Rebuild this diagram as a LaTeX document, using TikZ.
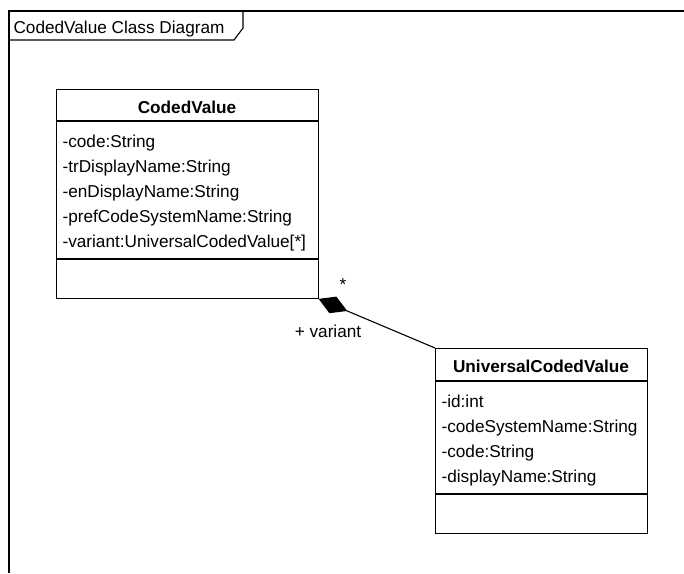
\documentclass[tikz,border=0pt]{standalone}
\usepackage{fontspec}
\setmainfont{Liberation Sans}
\usetikzlibrary{arrows.meta}
\newcommand{\umlfont}{\fontsize{17.2}{20}\selectfont}
\newcommand{\framex}{9}
\newcommand{\framey}{11}
\newcommand{\tabxe}{243}
\newcommand{\tabye}{40}
\newcommand{\tabcut}{9}
\newcommand{\rowsep}{25}
% coded value box
\newcommand{\cvxs}{56}
\newcommand{\cvys}{89}
\newcommand{\cvnamey}{121}
\newcommand{\cvattry}{259}
% universal coded value box
\newcommand{\ucvxs}{435}
\newcommand{\ucvys}{348}
\newcommand{\ucvnamey}{381}
\newcommand{\ucvattry}{494}

\begin{document}
\begin{tikzpicture}[x=1pt,y=-1pt,font=\umlfont,line width=1.1pt,
    classbox/.style={draw,inner sep=0pt,anchor=north west},
    attr/.style={anchor=base west,inner sep=0pt}]
    \useasboundingbox (0,0) rectangle (684,573);
    % diagram frame
    \draw (\framex,573) -- (\framex,\framey) -- (684,\framey);
    \draw (\framex,\tabye) -- (\tabxe - \tabcut,\tabye)
      -- (\tabxe,\tabye - 12) -- (\tabxe,\framey);
    \node[attr] (frametitle) at (13,33) {CodedValue Class Diagram};

    % coded value part
    \node[classbox,minimum width=262pt,minimum height=209pt]
      (codedvalue) at (\cvxs,\cvys) {};
    \draw (codedvalue.west |- 0,\cvnamey) -- (codedvalue.east |- 0,\cvnamey);
    \draw (codedvalue.west |- 0,\cvattry) -- (codedvalue.east |- 0,\cvattry);
    \node[font=\umlfont\bfseries,anchor=base,inner sep=0pt]
      (cvname) at (187,113) {CodedValue};
    \foreach \attrtext [count=\i] in {{-code:String},{-trDisplayName:String},
      {-enDisplayName:String},{-prefCodeSystemName:String},
      {-variant:UniversalCodedValue[*]}}
      \node[attr] (cvattr\i) at (62,122 + \rowsep*\i) {\attrtext};

    % universal coded value part
    \node[classbox,minimum width=212pt,minimum height=185pt]
      (universal) at (\ucvxs,\ucvys) {};
    \draw (universal.west |- 0,\ucvnamey) -- (universal.east |- 0,\ucvnamey);
    \draw (universal.west |- 0,\ucvattry) -- (universal.east |- 0,\ucvattry);
    \node[font=\umlfont\bfseries,anchor=base,inner sep=0pt]
      (ucvname) at (541,372) {UniversalCodedValue};
    \foreach \attrtext [count=\i] in {{-id:int},{-codeSystemName:String},
      {-code:String},{-displayName:String}}
      \node[attr] (ucvattr\i) at (441,382 + \rowsep*\i) {\attrtext};

    % composition
    \draw[-{Diamond[length=31pt,width=18pt,line join=round]}]
      (universal.north west) -- (codedvalue.south east);
    \node (multstar) at (343,285) {*};
    \node[anchor=base,inner sep=0pt] (rolename) at (328,337) {+ variant};
  \end{tikzpicture}
\end{document}
